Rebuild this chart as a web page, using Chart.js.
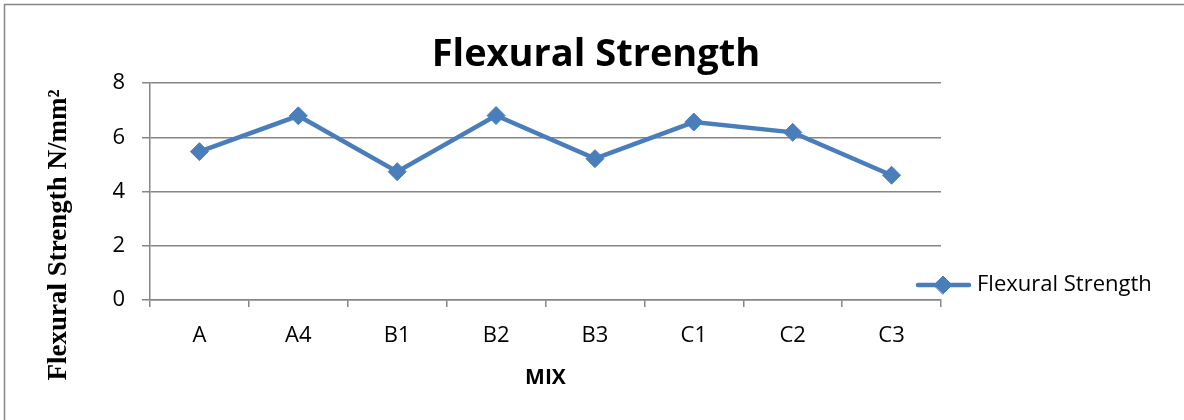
<!DOCTYPE html>
<html>
<head>
<meta charset="utf-8">
<title>Flexural Strength</title>
<script src="https://cdn.jsdelivr.net/npm/chart.js@4"></script>
<style>
  html, body { margin: 0; padding: 0; background: #ffffff; }
  #wrap { width: 1184px; height: 420px; position: relative; }
</style>
</head>
<body>
<div id="wrap"><canvas id="chart" width="1184" height="420"></canvas></div>
<script>
// Mix designs and their flexural strength (N/mm²)
const categories = ['A', 'A4', 'B1', 'B2', 'B3', 'C1', 'C2', 'C3'];
const flexuralStrength = [5.47, 6.79, 4.73, 6.80, 5.21, 6.56, 6.18, 4.60];
const yTicks = [0, 2, 4, 6, 8];

const chartTitle = 'Flexural Strength';
const seriesName = 'Flexural Strength';
const xAxisTitle = 'MIX';
const yAxisTitle = 'Flexural Strength N/mm²';

const BLUE = '#4A7EBB';
const GRID = '#868686';
const SANS = '"Open Sans", "Noto Sans", sans-serif';
const SERIF = '"Liberation Serif", "DejaVu Serif", serif';

// Frame, titles and legend drawn on top of the chart
const decorations = {
  id: 'decorations',
  afterDraw(chart) {
    const ctx = chart.ctx;
    const area = chart.chartArea;
    ctx.save();

    // outer frame (top and left edges)
    ctx.strokeStyle = GRID;
    ctx.lineWidth = 1.5;
    ctx.beginPath();
    ctx.moveTo(4.5, 421);
    ctx.lineTo(4.5, 4.5);
    ctx.lineTo(1185, 4.5);
    ctx.stroke();

    // chart title
    ctx.fillStyle = '#000';
    ctx.textAlign = 'center';
    ctx.textBaseline = 'middle';
    ctx.font = 'bold 38px ' + SANS;
    ctx.fillText(chartTitle, 596, 55);

    // x axis title
    ctx.font = 'bold 21px ' + SANS;
    ctx.fillText(xAxisTitle, (area.left + area.right) / 2, 378);

    // y axis title
    ctx.save();
    ctx.translate(66, 235);
    ctx.rotate(-Math.PI / 2);
    ctx.textBaseline = 'alphabetic';
    ctx.font = 'bold 27px ' + SERIF;
    ctx.fillText(yAxisTitle, 0, 0);
    ctx.restore();

    // legend: series line with its marker, then the name
    const ds = chart.data.datasets[0];
    const ly = 285;
    ctx.strokeStyle = ds.borderColor;
    ctx.lineWidth = ds.borderWidth;
    ctx.lineCap = 'round';
    ctx.beginPath();
    ctx.moveTo(918, ly);
    ctx.lineTo(969, ly);
    ctx.stroke();
    ctx.fillStyle = ds.pointBackgroundColor;
    ctx.strokeStyle = ds.pointBorderColor;
    ctx.lineWidth = ds.pointBorderWidth;
    Chart.helpers.drawPoint(ctx, {
      pointStyle: ds.pointStyle,
      radius: ds.pointRadius,
      rotation: 0,
      borderWidth: ds.pointBorderWidth
    }, 943, ly);
    ctx.fillStyle = '#000';
    ctx.textAlign = 'left';
    ctx.textBaseline = 'middle';
    ctx.font = '22px ' + SANS;
    ctx.fillText(seriesName, 977, ly);

    ctx.restore();
  }
};

new Chart(document.getElementById('chart'), {
  type: 'line',
  data: {
    labels: categories,
    datasets: [{
      label: seriesName,
      data: flexuralStrength,
      borderColor: BLUE,
      backgroundColor: BLUE,
      borderWidth: 4.5,
      pointStyle: 'rectRot',
      pointRadius: 9,
      pointHoverRadius: 9,
      pointBackgroundColor: BLUE,
      pointBorderColor: BLUE,
      pointBorderWidth: 1,
      tension: 0
    }]
  },
  options: {
    responsive: false,
    animation: false,
    devicePixelRatio: 1,
    layout: { padding: { left: 0, top: 83, right: 243, bottom: 0 } },
    plugins: {
      legend: { display: false },
      title: { display: false },
      tooltip: { enabled: false }
    },
    scales: {
      x: {
        type: 'category',
        offset: true,
        grid: {
          offset: true,
          drawOnChartArea: false,
          color: GRID,
          tickLength: 7,
          lineWidth: 1.5
        },
        border: { display: true, color: GRID, width: 1.5 },
        ticks: {
          autoSkip: false,
          maxRotation: 0,
          color: '#000',
          padding: 16,
          font: { family: SANS, size: 22 }
        },
        afterFit(scale) { scale.height = 120; }
      },
      y: {
        min: 0,
        max: 8,
        afterBuildTicks(scale) {
          scale.ticks = yTicks.map(v => ({ value: v }));
        },
        grid: {
          color: GRID,
          tickLength: 8,
          lineWidth: 1.5
        },
        border: { display: true, color: GRID, width: 1.5 },
        ticks: {
          color: '#000',
          padding: 17,
          font: { family: SANS, size: 22 }
        },
        afterFit(scale) { scale.width = 150; }
      }
    }
  },
  plugins: [decorations]
});
</script>
</body>
</html>
